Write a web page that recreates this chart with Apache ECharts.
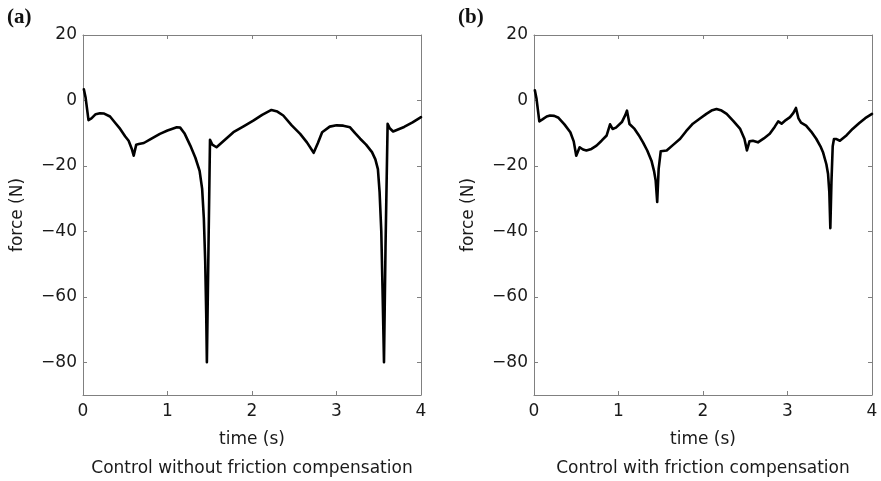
<!DOCTYPE html>
<html>
<head>
<meta charset="utf-8">
<script src="https://cdn.jsdelivr.net/npm/echarts@6/dist/echarts.min.js"></script>
<style>
html,body{margin:0;padding:0;background:#fff;}
#chart{width:881px;height:481px;}
</style>
</head>
<body>
<div id="chart"></div>
<script>
// ---- Data ----
const yTicks = [-80, -60, -40, -20, 0, 20];
const xTicks = [0, 1, 2, 3, 4];

const timeA = [0.01, 0.03, 0.065, 0.10, 0.15, 0.20, 0.25, 0.32, 0.38, 0.44, 0.50, 0.54, 0.58, 0.60, 0.63, 0.66, 0.72, 0.80, 0.91, 1.00, 1.11, 1.15, 1.20, 1.27, 1.33, 1.38, 1.41, 1.43, 1.446, 1.458, 1.466, 1.485, 1.503, 1.53, 1.58, 1.68, 1.78, 1.90, 2.02, 2.12, 2.23, 2.30, 2.37, 2.47, 2.57, 2.65, 2.73, 2.78, 2.83, 2.92, 3.00, 3.08, 3.16, 3.22, 3.28, 3.35, 3.42, 3.46, 3.49, 3.51, 3.53, 3.545, 3.562, 3.58, 3.605, 3.63, 3.67, 3.80, 3.90, 4.00];
const forceA = [3.4, 1.0, -6.0, -5.5, -4.2, -3.9, -4.0, -4.9, -6.8, -8.7, -11.0, -12.3, -15.0, -16.9, -13.5, -13.3, -13.0, -11.8, -10.2, -9.2, -8.2, -8.3, -10.0, -13.8, -17.5, -21.5, -27.0, -36.0, -49.0, -65.0, -80.0, -45.0, -12.0, -13.5, -14.3, -12.0, -9.7, -7.9, -6.1, -4.4, -2.9, -3.4, -4.6, -7.6, -10.2, -12.8, -16.0, -13.0, -9.7, -8.0, -7.6, -7.7, -8.2, -10.0, -11.7, -13.5, -15.8, -18.0, -21.0, -28.0, -40.0, -58.0, -80.0, -45.0, -7.1, -8.5, -9.5, -8.1, -6.7, -5.1];

const timeB = [0.01, 0.03, 0.063, 0.10, 0.15, 0.19, 0.24, 0.29, 0.36, 0.43, 0.47, 0.50, 0.54, 0.58, 0.62, 0.68, 0.74, 0.80, 0.86, 0.90, 0.93, 0.97, 1.04, 1.08, 1.10, 1.13, 1.19, 1.24, 1.29, 1.34, 1.39, 1.42, 1.44, 1.458, 1.475, 1.50, 1.51, 1.57, 1.65, 1.73, 1.80, 1.88, 1.96, 2.04, 2.10, 2.16, 2.22, 2.28, 2.36, 2.44, 2.49, 2.52, 2.55, 2.59, 2.65, 2.72, 2.79, 2.85, 2.89, 2.93, 2.98, 3.03, 3.07, 3.10, 3.13, 3.16, 3.22, 3.28, 3.34, 3.39, 3.42, 3.46, 3.48, 3.495, 3.507, 3.52, 3.535, 3.55, 3.58, 3.62, 3.70, 3.77, 3.85, 3.92, 4.00];
const forceB = [3.1, 0.5, -6.4, -5.8, -4.9, -4.6, -4.7, -5.3, -7.3, -9.7, -12.5, -16.9, -14.3, -15.0, -15.3, -14.8, -13.8, -12.3, -10.7, -7.3, -8.7, -8.3, -6.6, -4.5, -3.1, -7.2, -8.7, -10.6, -12.8, -15.3, -18.4, -21.5, -24.5, -31.0, -21.0, -15.5, -15.0, -15.3, -13.5, -11.7, -9.4, -7.1, -5.6, -4.1, -3.1, -2.6, -3.1, -4.1, -6.3, -8.7, -11.7, -15.3, -12.5, -12.3, -12.8, -11.6, -10.2, -8.0, -6.4, -7.1, -6.0, -5.1, -3.8, -2.3, -5.5, -6.8, -7.7, -9.5, -11.7, -14.0, -15.8, -19.5, -22.5, -28.0, -39.0, -25.0, -14.0, -11.8, -11.8, -12.3, -10.6, -8.7, -6.9, -5.4, -4.1];

const panelLabels = ['(a)', '(b)'];
const xAxisName = 'time (s)';
const yAxisName = 'force (N)';
const captions = ['Control without friction compensation', 'Control with friction compensation'];

// ---- Layout ----
const FONT = 'DejaVu Sans';
const AXIS_COLOR = '#808080';
const grids = [
  {left: 83, top: 35, width: 338, height: 360},
  {left: 534, top: 35, width: 338, height: 360}
];
const minus = v => String(v).replace('-', '\u2212');

const xAxes = [], yAxes = [], series = [];
grids.forEach((g, i) => {
  // bottom x axis
  xAxes.push({
    type: 'value', gridIndex: i, min: 0, max: 4, interval: 1, position: 'bottom',
    axisLine: {show: true, onZero: false, lineStyle: {color: AXIS_COLOR, width: 1}},
    axisTick: {show: true, inside: true, length: 4, lineStyle: {color: AXIS_COLOR}},
    axisLabel: {show: true, margin: 8, color: '#1a1a1a', fontFamily: FONT, fontSize: 17},
    splitLine: {show: false}
  });
  // top x axis (ticks only)
  xAxes.push({
    type: 'value', gridIndex: i, min: 0, max: 4, interval: 1, position: 'top',
    axisLine: {show: true, onZero: false, lineStyle: {color: AXIS_COLOR, width: 1}},
    axisTick: {show: true, inside: true, length: 4, lineStyle: {color: AXIS_COLOR}},
    axisLabel: {show: false}, splitLine: {show: false}
  });
  // left y axis
  yAxes.push({
    type: 'value', gridIndex: i, min: -90, max: 20, position: 'left',
    axisLine: {show: true, onZero: false, lineStyle: {color: AXIS_COLOR, width: 1}},
    axisTick: {show: true, inside: true, length: 4, customValues: yTicks, lineStyle: {color: AXIS_COLOR}},
    axisLabel: {show: true, margin: 6, customValues: yTicks, formatter: minus, color: '#1a1a1a', fontFamily: FONT, fontSize: 17},
    splitLine: {show: false}
  });
  // right y axis (ticks only)
  yAxes.push({
    type: 'value', gridIndex: i, min: -90, max: 20, position: 'right',
    axisLine: {show: true, onZero: false, lineStyle: {color: AXIS_COLOR, width: 1}},
    axisTick: {show: true, inside: true, length: 4, customValues: yTicks, lineStyle: {color: AXIS_COLOR}},
    axisLabel: {show: false}, splitLine: {show: false}
  });
});

const dataA = timeA.map((t, k) => [t, forceA[k]]);
const dataB = timeB.map((t, k) => [t, forceB[k]]);
[dataA, dataB].forEach((d, i) => {
  series.push({
    type: 'line', xAxisIndex: i * 2, yAxisIndex: i * 2, data: d,
    showSymbol: false, smooth: false, animation: false,
    lineStyle: {color: '#000', width: 2.6, join: 'round', cap: 'round'}
  });
});

const graphics = [];
grids.forEach((g, i) => {
  const cx = g.left + g.width / 2;
  graphics.push({type: 'text', x: cx, y: 440, style: {text: xAxisName, fontFamily: FONT, fontSize: 17, fill: '#1a1a1a', align: 'center', verticalAlign: 'middle'}});
  graphics.push({type: 'text', x: cx, y: 469, style: {text: captions[i], fontFamily: FONT, fontSize: 17, fill: '#1a1a1a', align: 'center', verticalAlign: 'middle'}});
  graphics.push({type: 'text', x: g.left - 65, y: g.top + g.height / 2, rotation: Math.PI / 2, style: {text: yAxisName, fontFamily: FONT, fontSize: 17, fill: '#1a1a1a', align: 'center', verticalAlign: 'middle'}});
  graphics.push({type: 'text', x: g.left - 76, y: 18, style: {text: panelLabels[i], fontFamily: 'Liberation Serif', fontWeight: 'bold', fontSize: 21, fill: '#111', align: 'left', verticalAlign: 'middle'}});
});

const chart = echarts.init(document.getElementById('chart'), null, {renderer: 'canvas'});
chart.setOption({
  animation: false,
  backgroundColor: '#fff',
  grid: grids.map(g => Object.assign({containLabel: false}, g)),
  xAxis: xAxes,
  yAxis: yAxes,
  series: series,
  graphic: graphics
});
</script>
</body>
</html>
